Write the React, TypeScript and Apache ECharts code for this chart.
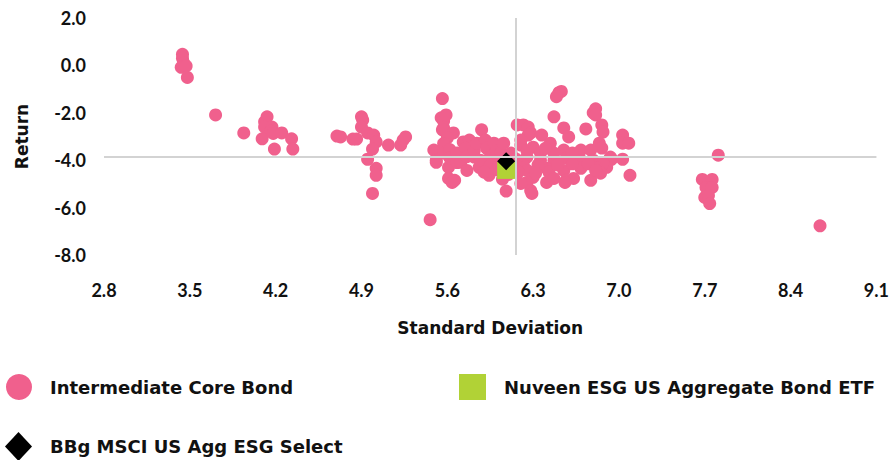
import React, { useEffect, useRef } from "react";
import * as echarts from "echarts";

const xTicks = { min: 2.8, max: 9.1, interval: 0.7 };
const yTicks = { min: -8, max: 2, interval: 2 };

const seriesNames = [
  "Intermediate Core Bond",
  "Nuveen ESG US Aggregate Bond ETF",
  "BBg MSCI US Agg ESG Select",
];

const crossX = 6.16;
const crossY = -3.87;

const peerData: number[][] = [
  [3.44, 0.47], [3.44, 0.3], [3.45, 0.1], [3.43, -0.08], [3.47, -0.03], [3.48, -0.51],
  [3.71, -2.09], [3.94, -2.85],
  [4.13, -2.17], [4.11, -2.38], [4.11, -2.6], [4.17, -2.6], [4.16, -2.78], [4.18, -2.87],
  [4.09, -3.1], [4.25, -2.85], [4.33, -3.1], [4.19, -3.53], [4.34, -3.53],
  [4.7, -2.98], [4.73, -3.02], [4.83, -3.11], [4.86, -3.11], [4.9, -2.17], [4.91, -2.3],
  [4.9, -2.6], [4.95, -2.85], [5.0, -2.94], [5.02, -3.23], [4.99, -3.53], [4.95, -3.96],
  [5.02, -4.34], [5.02, -4.64], [4.99, -5.4], [5.12, -3.36], [5.22, -3.36], [5.24, -3.15],
  [5.26, -3.02], [5.46, -6.51],
  [5.56, -1.4], [5.55, -2.21], [5.57, -2.35], [5.59, -2.09], [5.57, -2.64], [5.56, -2.72],
  [5.65, -2.85], [5.6, -3.06], [5.49, -3.57], [5.51, -3.66], [5.51, -4.0], [5.51, -4.09],
  [5.61, -4.3], [5.61, -4.77], [5.64, -4.94], [5.66, -4.85],
  [5.57, -3.3], [5.57, -3.7], [5.62, -3.55], [5.62, -3.9], [5.68, -3.7], [5.68, -4.1],
  [5.71, -4.09], [5.73, -3.23], [5.78, -3.15], [5.75, -3.5], [5.76, -3.85], [5.76, -4.43],
  [5.82, -3.87], [5.82, -3.6], [5.84, -3.28], [5.86, -4.3], [5.87, -4.0], [5.88, -2.72],
  [5.91, -3.15], [5.92, -3.5], [5.95, -3.87], [5.95, -4.21], [5.94, -4.64], [5.98, -3.28],
  [6.0, -3.6], [6.02, -4.0], [6.04, -3.66], [6.06, -3.28], [6.06, -4.43], [6.08, -5.3],
  [6.12, -3.7], [6.12, -4.2], [6.1, -4.6], [6.17, -2.51], [6.2, -3.36],
  [6.0, -4.4], [5.9, -4.5], [6.05, -4.8],
  [6.22, -2.51], [6.26, -2.6], [6.28, -2.85], [6.26, -2.94], [6.37, -2.94], [6.2, -3.15],
  [6.3, -3.45], [6.44, -3.28], [6.47, -2.17], [6.51, -1.15], [6.53, -1.1], [6.49, -1.32],
  [6.55, -2.64], [6.59, -3.02], [6.73, -2.68], [6.79, -2.0], [6.81, -1.83], [6.81, -2.09],
  [6.86, -2.51], [6.87, -2.81], [6.84, -3.28], [6.86, -3.49], [6.55, -3.57], [6.69, -3.57],
  [6.77, -3.57], [6.93, -3.87], [6.94, -3.96], [7.03, -2.94], [7.03, -3.28], [7.08, -3.28],
  [7.03, -3.96], [6.9, -4.3], [7.09, -4.64],
  [6.25, -3.87], [6.25, -3.6], [6.22, -4.2], [6.36, -4.0], [6.36, -3.7], [6.47, -4.0],
  [6.47, -3.7], [6.57, -3.91], [6.62, -3.7], [6.69, -4.0], [6.79, -4.0], [6.87, -4.13],
  [6.25, -4.43], [6.41, -4.34], [6.55, -4.43], [6.69, -4.34], [6.82, -4.34], [6.3, -4.72],
  [6.43, -4.51], [6.57, -4.85], [6.63, -4.77], [6.77, -4.85], [6.85, -4.55], [6.25, -4.94],
  [6.28, -5.28], [6.29, -5.4], [6.41, -4.94], [6.47, -4.77], [6.2, -4.98], [6.34, -4.2],
  [6.5, -4.2], [6.62, -4.15], [6.75, -4.15], [6.81, -4.43], [6.56, -4.94], [6.4, -3.5],
  [6.32, -4.55], [6.18, -4.5], [6.16, -3.95],
  [7.81, -3.79], [7.68, -4.81], [7.76, -4.81], [7.71, -5.15], [7.76, -5.15], [7.7, -5.57],
  [7.73, -5.49], [7.74, -5.83], [8.64, -6.77],
];

const fundData: number[][] = [[6.08, -4.43]];
const benchData: number[][] = [[6.08, -4.04]];

const PINK = "#f0608d";
const GREEN = "#b1d236";
const TICK_FONT = "Lato";
const TITLE_FONT = "DejaVu Sans";

export default function App() {
  const ref = useRef<HTMLDivElement>(null);
  useEffect(() => {
    if (!ref.current) return;
    const chart = echarts.init(ref.current, undefined, { renderer: "svg" });
    const legendText = {
      fontFamily: TITLE_FONT,
      fontWeight: "bold" as const,
      fontSize: 18,
      color: "#111",
      padding: [0, 0, 0, 13],
    };
    const titleStyle = { fontFamily: TITLE_FONT, fontWeight: "bold", fontSize: 17, color: "#111" };
    chart.setOption({
      animation: false,
      textStyle: { fontFamily: TICK_FONT },
      grid: { left: 104, right: 14, top: 18, bottom: 205 },
      xAxis: {
        type: "value",
        min: xTicks.min,
        max: xTicks.max,
        interval: xTicks.interval,
        axisLine: { show: false },
        axisTick: { show: false },
        splitLine: { show: false },
        axisLabel: {
          margin: 26,
          fontFamily: TICK_FONT,
          fontWeight: "bold",
          fontSize: 18,
          color: "#111",
          formatter: (v: number) => v.toFixed(1),
        },
        name: "Standard Deviation",
        nameLocation: "middle",
        nameGap: 64,
        nameTextStyle: titleStyle,
      },
      yAxis: {
        type: "value",
        min: yTicks.min,
        max: yTicks.max,
        interval: yTicks.interval,
        axisLine: { show: false },
        axisTick: { show: false },
        splitLine: { show: false },
        axisLabel: {
          margin: 18,
          fontFamily: TICK_FONT,
          fontWeight: "bold",
          fontSize: 18,
          color: "#111",
          formatter: (v: number) => v.toFixed(1),
        },
        name: "Return",
        nameLocation: "middle",
        nameGap: 74,
        nameRotate: 90,
        nameTextStyle: titleStyle,
      },
      legend: [
        {
          data: [{ name: seriesNames[0], icon: "circle" }],
          left: 6, top: 374, padding: 0, itemWidth: 26, itemHeight: 26,
          textStyle: legendText, selectedMode: false,
        },
        {
          data: [{ name: seriesNames[1], icon: "rect" }],
          left: 459, top: 374, padding: 0, itemWidth: 27, itemHeight: 26,
          textStyle: legendText, selectedMode: false,
        },
        {
          data: [{ name: seriesNames[2], icon: "diamond" }],
          left: 5, top: 432, padding: 0, itemWidth: 27, itemHeight: 29,
          textStyle: legendText, selectedMode: false,
        },
      ],
      series: [
        {
          name: seriesNames[0],
          type: "scatter",
          data: peerData,
          symbol: "circle",
          symbolSize: 13,
          itemStyle: { color: PINK, opacity: 1 },
          markLine: {
            silent: true,
            symbol: "none",
            label: { show: false },
            lineStyle: { color: "#d3d3d3", width: 2, type: "solid" },
            data: [{ xAxis: crossX }, { yAxis: crossY }],
          },
        },
        {
          name: seriesNames[1],
          type: "scatter",
          data: fundData,
          symbol: "rect",
          symbolSize: [18, 17],
          itemStyle: { color: GREEN, opacity: 1 },
        },
        {
          name: seriesNames[2],
          type: "scatter",
          data: benchData,
          symbol: "diamond",
          symbolSize: [18, 18],
          itemStyle: { color: "#000", opacity: 1 },
        },
      ],
    });
    return () => chart.dispose();
  }, []);
  return <div ref={ref} style={{ width: 892, height: 460, position: "absolute", left: 0, top: 0 }} />;
}
